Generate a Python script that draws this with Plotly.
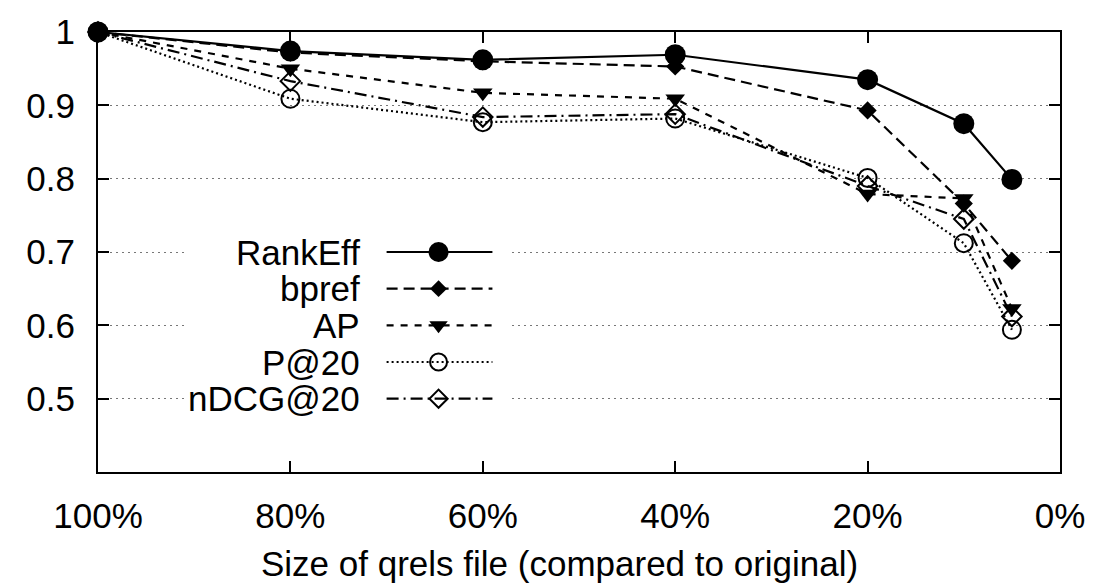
import plotly.graph_objects as go

# Size of the reduced qrels file, as a percentage of the original
sizes = [100, 80, 60, 40, 20, 10, 5]

# Rank correlation with the system ranking obtained from the full qrels
rankeff = [1.0, 0.974, 0.962, 0.969, 0.935, 0.875, 0.799]
bpref = [1.0, 0.972, 0.960, 0.953, 0.893, 0.766, 0.688]
ap = [1.0, 0.950, 0.917, 0.909, 0.779, 0.773, 0.623]
p_at_20 = [1.0, 0.909, 0.877, 0.882, 0.801, 0.712, 0.594]
ndcg_at_20 = [1.0, 0.933, 0.884, 0.888, 0.790, 0.745, 0.612]

metric_names = ["RankEff", "bpref", "AP", "P@20", "nDCG@20"]

x_tickvals = [100, 80, 60, 40, 20, 0]
x_ticktext = ["100%", "80%", "60%", "40%", "20%", "0%"]
y_tickvals = [0.5, 0.6, 0.7, 0.8, 0.9, 1.0]
y_ticktext = ["0.5", "0.6", "0.7", "0.8", "0.9", "1"]

x_title = "Size of qrels file (compared to original)"

FONT = "Liberation Sans, Arial, Helvetica, sans-serif"
FONT_SIZE = 35
BLACK = "#000000"

styles = {
    "RankEff": dict(dash="solid", symbol="circle", size=21, lw=0),
    "bpref": dict(dash="11px,6px", symbol="diamond", size=14, lw=0),
    "AP": dict(dash="7px,7px", symbol="triangle-down", size=17, lw=0),
    "P@20": dict(dash="2px,3px", symbol="circle-open", size=18, lw=2),
    "nDCG@20": dict(dash="12px,5px,2px,5px", symbol="diamond-open", size=15, lw=2),
}

series = dict(zip(metric_names, [rankeff, bpref, ap, p_at_20, ndcg_at_20]))

fig = go.Figure()

for name in metric_names:
    st = styles[name]
    fig.add_trace(go.Scatter(
        x=sizes, y=series[name], mode="lines+markers", name=name,
        line=dict(color=BLACK, width=2.2, dash=st["dash"]),
        marker=dict(color=BLACK, symbol=st["symbol"], size=st["size"],
                    line=dict(color=BLACK, width=st["lw"])),
        showlegend=False, cliponaxis=False,
    ))

# Key: label on the left, line sample with its marker on the right
key_rows = [0.70, 0.65, 0.60, 0.55, 0.50]
key_text_x = 72.6
key_line_x = [70.0, 59.0]
key_mark_x = 64.6

fig.add_shape(type="rect", xref="x", yref="y", x0=91.0, x1=57.0,
              y0=0.475, y1=0.725, fillcolor="white", line_width=0,
              layer="between")

for name, ky in zip(metric_names, key_rows):
    st = styles[name]
    fig.add_trace(go.Scatter(
        x=key_line_x, y=[ky, ky], mode="lines",
        line=dict(color=BLACK, width=2.2, dash=st["dash"]),
        showlegend=False, hoverinfo="skip",
    ))
    fig.add_trace(go.Scatter(
        x=[key_mark_x], y=[ky], mode="markers",
        marker=dict(color=BLACK, symbol=st["symbol"], size=st["size"] - 1,
                    line=dict(color=BLACK, width=st["lw"])),
        showlegend=False, hoverinfo="skip",
    ))
    fig.add_annotation(x=key_text_x, y=ky, xref="x", yref="y", text=name,
                       showarrow=False, xanchor="right", yanchor="middle",
                       font=dict(family=FONT, size=FONT_SIZE, color=BLACK))

# Axis title, centred on the page width
fig.add_annotation(x=0.48, y=-0.208, xref="paper", yref="paper", text=x_title,
                   showarrow=False, xanchor="center", yanchor="middle",
                   font=dict(family=FONT, size=FONT_SIZE, color=BLACK))

fig.update_layout(
    width=1110, height=586,
    margin=dict(l=98, r=50, t=23, b=114, pad=0),
    paper_bgcolor="white", plot_bgcolor="white",
    font=dict(family=FONT, size=FONT_SIZE, color=BLACK),
    showlegend=False,
)

fig.update_xaxes(
    range=[100, 0], tickvals=x_tickvals, ticktext=x_ticktext,
    showgrid=False, zeroline=False,
    showline=True, linecolor=BLACK, linewidth=2, mirror="allticks",
    ticks="inside", ticklen=11, tickwidth=1.5, tickcolor=BLACK,
    ticklabelstandoff=12,
)

fig.update_yaxes(
    range=[0.4, 1.0], tickvals=y_tickvals, ticktext=y_ticktext,
    showgrid=True, gridcolor="#777777", gridwidth=1.2, griddash="2px,4px",
    zeroline=False,
    showline=True, linecolor=BLACK, linewidth=2, mirror="allticks",
    ticks="inside", ticklen=11, tickwidth=1.5, tickcolor=BLACK,
    ticklabelstandoff=14,
)

fig.write_html("out.html")
